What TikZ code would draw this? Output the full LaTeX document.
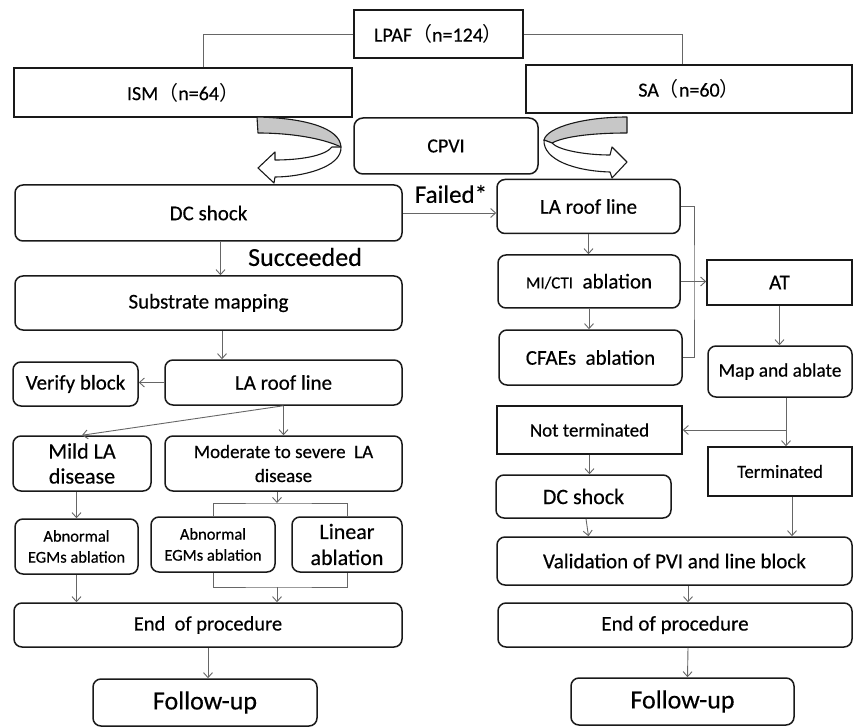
\documentclass[tikz,border=0pt]{standalone}
\usepackage{fontspec}
\setmainfont{Carlito}[FakeBold=0.4]
\newfontfamily\cjk{Noto Sans CJK SC}
\newcommand{\fwl}{{\cjk （}}
\newcommand{\fwr}{{\cjk ）}}
\usetikzlibrary{arrows.meta}

\begin{document}
\begin{tikzpicture}[x=1pt, y=-1pt,
        box/.style={rectangle, draw=black!90, line width=1.5pt, inner sep=2pt, align=center, font=\fontsize{21}{24}\selectfont},
        rbox/.style={box, rounded corners=8pt},
        link/.style={draw=black!60, line width=0.9pt},
        arrow/.style={link, -{Straight Barb[length=5pt,width=9pt]}},
        curl/.style={draw=black!90, line width=1.1pt, line join=round},
        tag/.style={font=\fontsize{25}{28}\selectfont}
    ]
        \useasboundingbox (0,0) rectangle (854,727);
        % top of the chart
        \node[box, minimum width=169pt, minimum height=48pt, font=\fontsize{20}{24}\selectfont] (LPAF) at (438.5,34) {LPAF\fwl n=124\fwr};
        \node[box, minimum width=338pt, minimum height=49pt, font=\fontsize{20}{24}\selectfont] (ISM) at (183,92.5) {ISM\fwl n=64\fwr};
        \node[box, minimum width=326pt, minimum height=48pt, font=\fontsize{20}{24}\selectfont] (SA) at (689,89) {SA\fwl n=60\fwr};
        \node[rbox, rounded corners=9pt, minimum width=184pt, minimum height=56pt, font=\fontsize{20}{24}\selectfont] (CPVI) at (446,146) {CPVI};

        % left column (ISM)
        \node[rbox, minimum width=387pt, minimum height=56pt] (DCL) at (208.5,213) {DC shock};
        \node[rbox, minimum width=387pt, minimum height=54pt] (SubMap) at (208.5,303) {Substrate mapping};
        \node[rbox, minimum width=125pt, minimum height=44pt] (Verify) at (75.5,384) {Verify block};
        \node[rbox, minimum width=237pt, minimum height=45pt] (LARoofL) at (283.5,382.5) {LA roof line};
        \node[rbox, minimum width=138pt, minimum height=55pt, font=\fontsize{22}{25}\selectfont] (Mild) at (82,463.5) {Mild LA\\disease};
        \node[rbox, minimum width=237pt, minimum height=55pt, font=\fontsize{19}{24}\selectfont] (Moderate) at (283.5,463.5) {Moderate to severe\ \ LA\\disease};
        \node[rbox, minimum width=123pt, minimum height=55pt, font=\fontsize{16.5}{21}\selectfont] (AbnL) at (76.5,546.5) {Abnormal\\EGMs ablation};
        \node[rbox, minimum width=124pt, minimum height=55pt, font=\fontsize{16.5}{21}\selectfont] (AbnM) at (213,544.5) {Abnormal\\EGMs ablation};
        \node[rbox, minimum width=110pt, minimum height=55pt, font=\fontsize{22}{26}\selectfont] (Linear) at (347,544.5) {Linear\\ablation};
        \node[rbox, minimum width=388pt, minimum height=44pt, font=\fontsize{20.5}{24}\selectfont] (EndL) at (208,625) {End\ \ of procedure};
        \node[rbox, minimum width=224pt, minimum height=47pt, font=\fontsize{26}{30}\selectfont] (FollowL) at (205,702.5) {Follow-up};

        % right column (SA)
        \node[rbox, minimum width=183pt, minimum height=54pt] (LARoofR) at (588.5,206.5) {LA roof line};
        \node[rbox, minimum width=182pt, minimum height=53pt] (MICTI) at (589,281.5) {{\fontsize{17}{18}\selectfont MI/CTI}\ \ ablation};
        \node[rbox, minimum width=183pt, minimum height=55pt] (CFAE) at (590.5,357.5) {CFAEs\ \ ablation};
        \node[box, minimum width=145pt, minimum height=45pt] (AT) at (779.5,282.5) {AT};
        \node[rbox, minimum width=144pt, minimum height=51pt, font=\fontsize{19.3}{24}\selectfont] (MapAbl) at (780,371.5) {Map and ablate};
        \node[box, minimum width=185pt, minimum height=48pt, font=\fontsize{19}{24}\selectfont] (NotTerm) at (589.5,430) {Not terminated};
        \node[box, minimum width=144pt, minimum height=49pt, font=\fontsize{18.6}{24}\selectfont] (Term) at (780,471.5) {Terminated};
        \node[rbox, minimum width=175pt, minimum height=43pt, font=\fontsize{22}{26}\selectfont] (DCR) at (583.5,496.5) {DC shock};
        \node[rbox, minimum width=355pt, minimum height=48pt] (Valid) at (674.5,561) {Validation of PVI and line block};
        \node[rbox, minimum width=354pt, minimum height=44pt] (EndR) at (675,625) {End of procedure};
        \node[rbox, minimum width=223pt, minimum height=47pt, font=\fontsize{26}{30}\selectfont] (FollowR) at (682.5,701.5) {Follow-up};

        \node[tag] (Failed) at (451,194) {Failed*};
        \node[tag, font=\fontsize{26}{30}\selectfont] (Succ) at (305,257) {Succeeded};
        \coordinate (split) at (277,503);
        \coordinate (join) at (277,587);
        \coordinate (bus) at (694,283);

        % curled arrows under ISM and SA
        \filldraw[curl, fill=black!22] (257,117) .. controls (305,118) and (340,128) .. (341,147) .. controls (322,138) and (290,133) .. (258,133) -- cycle;
        \filldraw[curl, fill=white] (341,147) .. controls (342,168) and (300,177) .. (275,177) -- (274,183) -- (258,168) -- (275,152) -- (275,160) .. controls (300,160) and (325,156) .. (332,147) -- cycle;
        \filldraw[curl, fill=black!22] (627,117) .. controls (585,117) and (547,127) .. (544,140) -- (552,143) .. controls (565,136) and (595,133) .. (627,133) -- cycle;
        \filldraw[curl, fill=white] (544,140) .. controls (543,160) and (575,171) .. (610,172) -- (612,178) -- (627,162) -- (612,147) -- (610,155) .. controls (585,155) and (558,150) .. (552,143) -- cycle;

        % connectors
        \draw[link] (LPAF.west) -| ([xshift=20pt]ISM.north);
        \draw[link] (LPAF.east) -| ([xshift=-7pt]SA.north);
        \draw[arrow] (DCL.east) -- (DCL.east -| LARoofR.west);
        \draw[arrow] ([xshift=12pt]DCL.south) -- ([xshift=12pt]SubMap.north);
        \draw[arrow] ([xshift=13.5pt]SubMap.south) -- ([xshift=-61.5pt]LARoofL.north);
        \draw[arrow] (LARoofL.west) -- (LARoofL.west -| Verify.east);
        \draw[arrow] (LARoofL.south) -- (Mild.north);
        \draw[arrow] (LARoofL.south) -- (Moderate.north);
        \draw[arrow] (Mild.south -| AbnL.north) -- (AbnL.north);
        \draw[arrow] (Moderate.south -| split) -- (split);
        \draw[link] (AbnM.north) |- (split) -| (Linear.north);
        \draw[link] (AbnM.south) |- (join) -| (Linear.south);
        \draw[arrow] (join) -- (join |- EndL.north);
        \draw[arrow] (AbnL.south) -- (AbnL.south |- EndL.north);
        \draw[arrow] (EndL.south) -- (EndL.south |- FollowL.north);

        \draw[arrow] (LARoofR.south) -- (LARoofR.south |- MICTI.north);
        \draw[arrow] (MICTI.south) -- (MICTI.south |- CFAE.north);
        \draw[link] (LARoofR.east) -| (bus) |- (CFAE.east);
        \draw[arrow] (MICTI.east) -- (MICTI.east -| AT.west);
        \draw[arrow] (AT.south) -- (AT.south |- MapAbl.north);
        \draw[arrow] ([xshift=6pt]MapAbl.south) -- ([xshift=6pt]Term.north);
        \draw[arrow] ([xshift=6pt]MapAbl.south |- NotTerm.east) -- (NotTerm.east);
        \draw[arrow] (NotTerm.south) -- (NotTerm.south |- DCR.north);
        \draw[arrow] ([xshift=2.5pt]DCR.south) -- ([xshift=-86pt]Valid.north);
        \draw[arrow] ([xshift=12pt]Term.south) -- ([xshift=117.5pt]Valid.north);
        \draw[arrow] ([xshift=13.5pt]Valid.south) -- ([xshift=13pt]EndR.north);
        \draw[arrow] ([xshift=13pt]EndR.south) -- ([xshift=5pt]FollowR.north);
    \end{tikzpicture}
\end{document}
